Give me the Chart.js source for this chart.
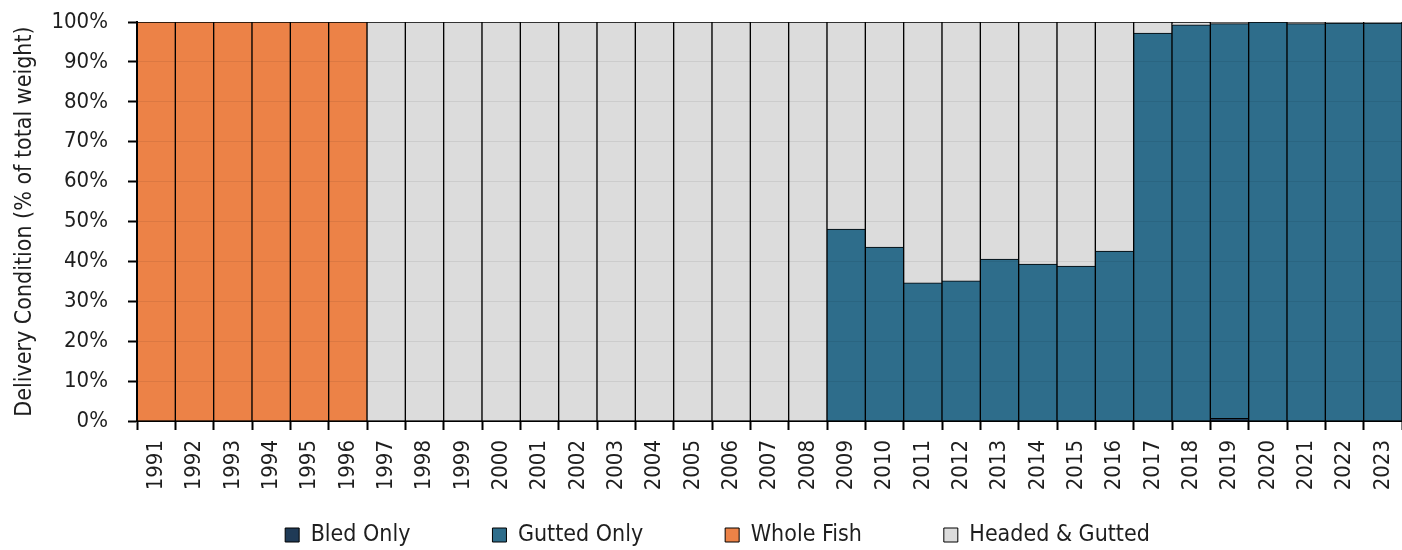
<!DOCTYPE html>
<html>
<head>
<meta charset="utf-8">
<script src="https://cdn.jsdelivr.net/npm/chart.js@4.4.1/dist/chart.umd.min.js"></script>
<style>
  html, body { margin: 0; padding: 0; background: #ffffff; }
  #wrap { width: 1402px; height: 550px; position: relative; }
</style>
</head>
<body>
<div id="wrap"><canvas id="c" width="1402" height="550"></canvas></div>
<script>
const years = ['1991','1992','1993','1994','1995','1996','1997','1998','1999','2000','2001','2002','2003','2004','2005','2006','2007','2008','2009','2010','2011','2012','2013','2014','2015','2016','2017','2018','2019','2020','2021','2022','2023'];
const bledOnly   = [0,0,0,0,0,0, 0,0,0,0,0,0,0,0,0,0,0,0, 0,0,0,0,0,0,0,0, 0,0,0.7,0,0,0,0];
const guttedOnly = [0,0,0,0,0,0, 0,0,0,0,0,0,0,0,0,0,0,0, 48.1,43.6,34.6,35.1,40.6,39.3,38.8,42.6, 97.2,99.3,98.9,100,99.6,99.7,99.7];
const wholeFish  = [100,100,100,100,100,100, 0,0,0,0,0,0,0,0,0,0,0,0, 0,0,0,0,0,0,0,0, 0,0,0,0,0,0,0];
const headedGutted = [0,0,0,0,0,0, 100,100,100,100,100,100,100,100,100,100,100,100, 51.9,56.4,65.4,64.9,59.4,60.7,61.2,57.4, 2.8,0.7,0.4,0,0.4,0.3,0.3];
const yTicks = [0,10,20,30,40,50,60,70,80,90,100];

const FONT = "'Liberation Sans Narrow', 'Arial Narrow', 'DejaVu Sans Condensed', sans-serif";
const TXT = '#1e1e1e';

// position the legend row (horizontal centre and vertical placement)
const placeLegend = {
  id: 'placeLegend',
  afterLayout(chart) {
    const lg = chart.legend;
    if (lg) {
      lg.left += 33;
      lg.top = 441.5;
    }
  }
};

new Chart(document.getElementById('c'), {
  type: 'bar',
  data: {
    labels: years,
    datasets: [
      { label: 'Bled Only', data: bledOnly, backgroundColor: '#1f3a56', borderColor: '#000', borderWidth: 1 },
      { label: 'Gutted Only', data: guttedOnly, backgroundColor: '#2e6d8b', borderColor: '#000', borderWidth: 1 },
      { label: 'Whole Fish', data: wholeFish, backgroundColor: '#ec8247', borderColor: '#000', borderWidth: 1 },
      { label: 'Headed & Gutted', data: headedGutted, backgroundColor: '#dcdcdc', borderColor: '#000', borderWidth: 1 }
    ]
  },
  options: {
    responsive: false,
    animation: false,
    devicePixelRatio: 1,
    layout: { padding: { top: 22, left: 0, right: 0, bottom: 0 } },
    datasets: { bar: { barPercentage: 1, categoryPercentage: 1 } },
    plugins: {
      title: { display: false },
      tooltip: { enabled: false },
      legend: {
        position: 'bottom',
        maxHeight: 40,
        labels: {
          font: { family: FONT, size: 23 },
          color: TXT,
          boxWidth: 14,
          boxHeight: 14,
          padding: 82
        }
      }
    },
    scales: {
      x: {
        stacked: true,
        grid: { offset: true, drawOnChartArea: false, tickLength: 9, tickColor: '#000', tickWidth: 2 },
        border: { display: true, color: '#000', width: 2 },
        ticks: {
          autoSkip: false, minRotation: 90, maxRotation: 90, padding: 10,
          font: { family: FONT, size: 22 }, color: TXT
        },
        afterFit(scale) { scale.height = 89; scale.paddingLeft = 0; scale.paddingRight = 0; }
      },
      y: {
        stacked: true,
        min: 0, max: 100,
        afterBuildTicks(scale) { scale.ticks = yTicks.map(v => ({ value: v })); },
        grid: { color: 'rgba(0,0,0,0.07)', z: 1, tickLength: 9, tickColor: '#000', tickWidth: 2, drawTicks: true },
        border: { display: true, color: '#000', width: 2, z: 1 },
        ticks: {
          padding: 20,
          font: { family: FONT, size: 22 }, color: TXT,
          callback: (v) => v + '%'
        },
        title: {
          display: true,
          text: 'Delivery Condition (% of total weight)',
          font: { family: FONT, size: 23 }, color: TXT,
          padding: { top: 11, bottom: 0 }
        },
        afterFit(scale) { scale.width = 137; scale.paddingTop = 0; scale.paddingBottom = 0; }
      }
    }
  },
  plugins: [placeLegend]
});
</script>
</body>
</html>
